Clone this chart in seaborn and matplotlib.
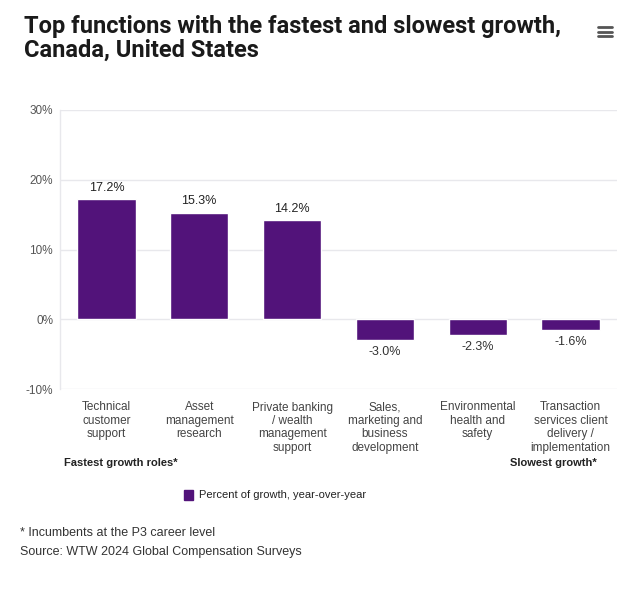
import matplotlib
matplotlib.use("Agg")
import matplotlib.pyplot as plt
import seaborn as sns
import pandas as pd
from matplotlib.lines import Line2D
from matplotlib.patches import Rectangle

categories = [
    "Technical\ncustomer\nsupport",
    "Asset\nmanagement\nresearch",
    "Private banking\n/ wealth\nmanagement\nsupport",
    "Sales,\nmarketing and\nbusiness\ndevelopment",
    "Environmental\nhealth and\nsafety",
    "Transaction\nservices client\ndelivery /\nimplementation",
]
values = [17.2, 15.3, 14.2, -3.0, -2.3, -1.6]
y_ticks = [-10, 0, 10, 20, 30]
series_name = "Percent of growth, year-over-year"
title = "Top functions with the fastest and slowest growth,\nCanada, United States"
footnotes = ["* Incumbents at the P3 career level", "Source: WTW 2024 Global Compensation Surveys"]

sns.set_theme(style="white")
plt.rcParams["font.family"] = ["Liberation Sans", "DejaVu Sans"]

BAR = "#52137a"
df = pd.DataFrame({"cat": categories, "val": values})

fig = plt.figure(figsize=(6.4, 5.89), dpi=100)
fig.patch.set_facecolor("white")
ax = fig.add_axes([60/640, 1-389/589, 557/640, 279/589])

sns.barplot(data=df, x="cat", y="val", color=BAR, width=0.63, ax=ax, saturation=1)
ax.set_ylim(-10, 30)
ax.set_xlim(-0.5, len(categories) - 0.5)
ax.set_yticks(y_ticks)
ax.set_yticklabels([f"{t}%" for t in y_ticks], fontsize=8.5, color="#555555")
ax.tick_params(axis="y", length=0, pad=5)
ax.tick_params(axis="x", length=0, pad=9)
ax.set_xticks(range(len(categories)))
ax.set_xticklabels(categories, fontsize=8.5, color="#444444", linespacing=1.15, va="top")
ax.set_xlabel("")
ax.set_ylabel("")
ax.grid(axis="y", color="#e8e8ec", linewidth=1)
ax.set_axisbelow(True)
for s in ["top", "right", "bottom"]:
    ax.spines[s].set_visible(False)
ax.spines["left"].set_color("#e8e8ec")
ax.spines["left"].set_linewidth(1)

for i, v in enumerate(values):
    if v >= 0:
        ax.annotate(f"{v:.1f}%", (i, v), xytext=(0, 4), textcoords="offset points",
                    ha="center", va="bottom", fontsize=9, color="#222222")
    else:
        ax.annotate(f"{v:.1f}%", (i, v), xytext=(0, -4), textcoords="offset points",
                    ha="center", va="top", fontsize=9, color="#333333")

fig.text(24/640, 1-38/589, title, fontsize=17, fontweight="bold", color="#1a1a1a",
         va="center", ha="left", linespacing=1.05, family=["Roboto", "DejaVu Sans"])
for k in range(3):
    yy = 1 - (27 + k*4.5)/589
    fig.add_artist(Line2D([598/640, 612/640], [yy, yy], color="#555555", linewidth=2))

fig.text(64/640, 1-463/589, "Fastest growth roles*", fontsize=8, fontweight="bold",
         color="#222222", va="center", ha="left")
fig.text(597/640, 1-463/589, "Slowest growth*", fontsize=8, fontweight="bold",
         color="#222222", va="center", ha="right")

fig.add_artist(Rectangle((184/640, 1-500/589), 9/640, 10/589, color=BAR,
                         transform=fig.transFigure))
fig.text(199/640, 1-495/589, series_name, fontsize=8, color="#222222",
         va="center", ha="left")

fig.text(20/640, 1-533/589, footnotes[0], fontsize=9, color="#333333", va="center")
fig.text(20/640, 1-552/589, footnotes[1], fontsize=9, color="#333333", va="center")

fig.savefig("out.png", dpi=100, facecolor="white")
